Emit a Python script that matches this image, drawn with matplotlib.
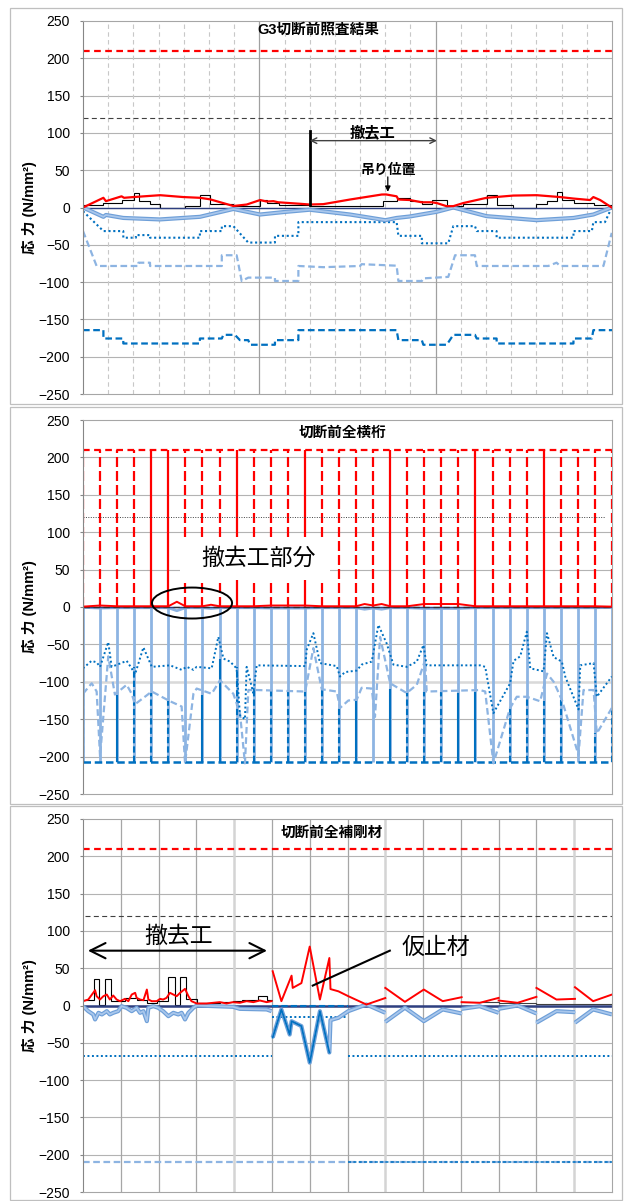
import numpy as np
import matplotlib.pyplot as plt
from matplotlib.patches import Ellipse, Rectangle

plt.rcParams['font.family'] = ['Liberation Sans', 'Noto Sans CJK JP', 'DejaVu Sans']

RED = '#ff0000'
LBLUE = '#8db4e2'
LBLUE_D = '#6e9fd8'
BLUE = '#0070c0'
NAVY = '#2e3f80'
nan = np.nan

# ---------------- panel 1 : G3 ----------------
p1_red_x = [0, 0.81, 0.91, 1.53, 1.63, 2.0, 3.06, 3.98, 4.64, 5.04, 5.97, 6.5, 7.03, 7.29, 7.56, 7.75,
            8.61, 9.0, 9.54, 10.6, 11.86, 12.03, 12.45, 12.52, 12.98, 13.45, 13.84, 14.04, 14.43, 14.7,
            15.1, 16.02, 17.08, 18.01, 18.94, 19.47, 20.13, 20.26, 20.53, 20.99]
p1_red_y = [0, 13, 8.5, 15, 13, 14, 16.5, 14, 13, 11, 2, 4, 10, 8, 8.5, 7,
            5, 4, 4.5, 10.7, 17.4, 17.5, 15, 10.7, 10, 7, 7, 6, 1.8, 1.8,
            6, 13, 16, 16.5, 14, 12, 10, 14, 10, 0]

p1_blk_edges = [0, 0.81, 1.53, 2.04, 2.24, 2.66, 3.06, 4.05, 4.64, 5.04, 5.97, 7.03, 7.3, 7.8, 9.0, 11.9,
                12.45, 12.98, 13.45, 13.84, 14.44, 15.1, 16.02, 16.42, 17.08, 18.0, 18.4, 18.8, 19.0, 19.5,
                20.3, 21]
p1_blk_vals = [3, 6, 10.7, 19.6, 8.5, 5, 0, 1.8, 16.5, 5, 1.8, 10, 6, 3, 1.5, 8.5, 13, 8.5, 5, 10.7,
               1.5, 5, 17.4, 3, 0, 5, 8.5, 20.5, 10.7, 6, 3]

p1_lb_x = [0, 0.81, 0.91, 1.6, 3.05, 4.64, 5.97, 7.03, 8.0, 9.0, 10.6, 12.0, 12.45, 12.98, 14.04, 14.7,
           16.02, 18.01, 19.47, 20.26, 20.99]
p1_lb_y = [0, -12.5, -10, -14, -16, -12.5, -2, -9.4, -6, -3, -9.4, -17, -14, -12, -5.8, 0,
           -11.6, -17, -14, -9.4, 0]

p1_dot_x = [0, 0.81, 1.6, 1.6, 2.1, 2.1, 2.66, 2.66, 4.64, 4.64, 5.51, 5.51, 5.97, 6.56, 7.62, 7.62,
            8.55, 8.55, 12.45, 12.52, 13.45, 13.45, 14.5, 14.7, 15.56, 15.63, 16.42, 16.42, 19.47, 19.47,
            20.2, 20.26, 20.72, 20.99]
p1_dot_y = [-5, -31.6, -31.6, -40.5, -40.5, -37, -37, -40.5, -40.5, -31.6, -31.6, -25, -25, -47, -47, -38,
            -38, -19.6, -19.6, -38, -38, -48, -48, -25, -25, -31.6, -31.6, -40.5, -40.5, -31.6,
            -31.6, -19.6, -19.6, 0]

p1_ld_x = [0, 0.54, 2.2, 2.2, 2.66, 2.66, 5.51, 5.51, 6.1, 6.3, 6.56, 7.62, 7.62, 8.55, 8.55, 9.54,
           11.0, 11.06, 12.45, 12.52, 13.45, 13.51, 14.5, 14.77, 15.56, 15.63, 18.47, 18.8, 18.94, 20.66,
           20.99]
p1_ld_y = [-31.6, -78.4, -78.4, -74, -74, -78.4, -78.4, -64, -64, -98.5, -94, -94, -98.5, -98.5, -78.4, -80,
           -78.4, -76, -78, -98.5, -98.5, -95, -93, -64, -64, -78.4, -78.4, -74, -78.4, -78.4,
           -34]

p1_dd_x = [0, 0.81, 0.81, 1.6, 1.6, 4.64, 4.64, 5.51, 5.57, 6.03, 6.23, 6.56, 6.63, 7.62, 7.62, 8.55,
           8.55, 12.45, 12.52, 13.45, 13.51, 14.44, 14.7, 15.56, 15.63, 16.42, 16.42, 19.47, 19.47, 20.2,
           20.26, 21]
p1_dd_y = [-164.4, -164.4, -175.6, -175.6, -182.3, -182.3, -175.6, -175.6, -170.7, -170.7, -177.8, -177.8,
           -184, -184, -177.8, -177.8, -164.4, -164.4, -177.8, -177.8, -184, -184, -170.7, -170.7, -175.6,
           -175.6, -182.3, -182.3, -175.6, -175.6, -164.4, -164.4]

# ---------------- panel 2 : all cross beams ----------------
p2_pos = list(range(32))
p2_limit_top = 210
p2_limit_bottom = -207
p2_red_solid = [4, 5, 9, 13, 18, 23, 27]

p2_dark_x = [0, 2, 3, 4, 5, 7, 8, 9, 10, 11, 12, 13, 14, 15, 16, 18, 19, 20, 21, 22, 23, 25, 26, 27, 28, 30, 31]
p2_dark_top = [-116, -118, -80, -115, -126, -117, -70, -80, -111, -111, -113, -113, -110, -135, -125,
               -110, -115, -113, -113, -115, -113, -135, -120, -126, -124, -169, -135]
p2_dark_solid = [2, 7, 8, 16, 18, 22, 23]

p2_dot_x = [0, 0.5, 0.8, 1.0, 1.48, 1.68, 2.56, 2.85, 3.05, 3.54,
            4.03, 5.1, 5.78, 6.08, 6.47, 6.66, 7.54, 7.93, 8.23, 8.62,
            9.0, 9.2, 9.49, 9.59, 9.98, 10.18, 13.02, 13.11, 13.5, 13.89,
            14.87, 15.06, 15.36, 16.04, 16.33, 16.92, 17.31, 17.8, 18.19, 18.97,
            19.56, 19.95, 20.14, 23.27, 23.57, 24.05, 25.03, 25.23, 25.62, 26.01,
            26.21, 26.99, 27.19, 27.58, 28.06, 28.26, 29.04, 29.14, 29.92, 30.11,
            30.99]
p2_dot_y = [-82, -72, -74, -80, -47, -80, -72, -82, -90, -54,
            -80, -78, -84, -80, -84, -80, -82, -40, -69, -73,
            -82, -145, -150, -80, -115, -78, -79, -57, -35, -75,
            -79, -93, -87, -85, -77, -73, -24, -49, -77, -80,
            -73, -51, -78, -78, -80, -142, -102, -72, -66, -33,
            -82, -86, -35, -67, -73, -93, -137, -78, -75, -120,
            -93]

p2_ld_x = [0, 0.51, 0.8, 1.0, 1.48, 1.87, 2.56, 2.85, 3.05, 4.03,
           5.1, 5.78, 5.98, 6.47, 6.66, 7.54, 8.03, 8.81, 9.2, 9.49,
           9.69, 10.18, 13.02, 13.5, 13.99, 14.87, 15.06, 15.55, 16.04, 16.33,
           16.92, 17.11, 17.41, 18.0, 18.97, 19.56, 20.05, 20.14, 23.27, 23.57,
           24.05, 25.03, 25.42, 26.01, 26.79, 27.19, 27.58, 28.06, 29.04, 29.33,
           29.92, 30.11, 30.99]
p2_ld_y = [-116, -102, -113, -200, -66, -117, -104, -116, -130, -113,
           -126, -133, -209, -116, -109, -116, -98, -116, -142, -209,
           -111, -111, -113, -55, -110, -113, -135, -125, -124, -108,
           -109, -147, -40, -102, -115, -104, -71, -113, -111, -113,
           -209, -135, -120, -120, -126, -89, -100, -124, -198, -111,
           -111, -169, -135]

p2_lo_x = [0, 1, 2, 3, 4, 5, 5.5, 6, 7, 7.5, 8, 9, 10, 11, 12, 13, 14, 15, 16, 16.5, 17, 17.5, 18,
           19, 20, 21, 22, 23, 24, 25, 26, 27, 28, 29, 30, 31]
p2_red_lo = [0.5, 2, 1, 1, 1, 1, 7, 1, 1, 3, 1, 1, 1, 2, 2, 2, 1, 1, 1, 4, 2, 4, 1,
             1, 4, 4, 4, 1, 1, 1, 1, 1, 1, 1, 1, 0.5]
p2_lb_lo = [-0.5, -1.5, -1, -1, -1, -1, -5, -1, -1, -2, -1, -1, -1, -1.5, -1.5, -1.5, -1, -1, -1, -3,
            -1.5, -3, -1, -1, -2, -2, -2, -1, -1, -1, -1, -1, -1, -1, -1, -0.5]

# ---------------- panel 3 : all stiffeners ----------------
p3_red_x = [0, 0.14, 0.27, 0.32, 0.36, 0.45, 0.54, 0.63, 0.71, 0.8,
            0.89, 0.98, 1.11, 1.2, 1.29, 1.38, 1.42, 1.51, 1.6, 1.69,
            1.73, 1.82, 1.95, 2.04, 2.12, 2.21, 2.3, 2.39, 2.48, 2.57,
            2.7, 2.79, 2.87, 3.01, 3.27, 3.62, 3.8, 3.97, 4.15, 4.33,
            4.51, 4.68, 4.86, 4.99, nan,
            5.02, 5.25, 5.52, 5.55, 5.78, 6.0, 6.27, 6.52, 6.55, 6.76, 7.02, 7.5, 8.0, nan,
            8, 8.52, 9.02, 9.52, 10.02, nan, 10.02, 10.5, 11, nan, 11, 11.5, 12, nan,
            12, 12.53, 13.02, nan, 13.02, 13.5, 14]
p3_red_y = [5.8, 8, 17, 20.5, 12.5, 8, 12.5, 14.7, 8, 13.4,
            8, 5.8, 8.9, 5.8, 14.7, 17, 10.2, 8, 7.1, 21.4,
            8, 5.8, 5.8, 8.9, 8, 10.2, 17, 14.7, 12.5, 17,
            22.3, 12.5, 5.8, 2.7, 2.7, 4.5, 2.7, 4.5, 3.6, 5.8,
            4.5, 6.7, 4.5, 5.8, nan,
            45.9, 5.8, 40, 23.6, 30, 79, 8, 63.7, 22, 19, 12.5, 1.3, 10, nan,
            23.6, 4.9, 21.4, 5.8, 11.1, nan, 4.5, 3.6, 10.2, nan, 6.7, 3.6, 11.6, nan,
            23.6, 8, 8.9, nan, 24.5, 5.8, 14.7]

p3_lb_x = [0, 0.14, 0.27, 0.32, 0.41, 0.5, 0.63, 0.71, 0.8, 0.93,
           1.02, 1.15, 1.29, 1.42, 1.51, 1.6, 1.69, 1.73, 1.86, 1.99,
           2.12, 2.26, 2.39, 2.52, 2.61, 2.7, 2.79, 2.92, 3.01, 3.97,
           4.15, 4.86, 4.99, nan,
           5.02, 5.25, 5.47, 5.52, 5.78, 6.0, 6.27, 6.52, 6.55, 6.76, 7.02, 7.5, 8.0, nan,
           8, 8.52, 9.02, 9.52, 10.02, nan, 10.02, 10.5, 11, nan, 11, 11.5, 12, nan,
           12, 12.53, 13.02, nan, 13.02, 13.5, 14]
p3_lb_y = [-0.9, -7.6, -12, -18.7, -9.8, -12, -7.6, -12, -9.8, -7.6,
           -0.9, -3.1, -7.6, -3.1, -9.8, -7.6, -21, -3.1, -0.9, -3.1,
           -7.6, -14.3, -9.8, -12, -9.8, -18.7, -9.8, -3.1, 0, -1.8,
           -4.5, -5.3, -7.6, nan,
           -43, -5.3, -39, -21, -27.6, -76.6, -7.6, -63, -19.6, -16.5, -7.6, 1.3, -9.8, nan,
           -22, -3, -21, -5.3, -10.7, nan, -4.5, -1, -9.8, nan, -4.5, 0, -10.7, nan,
           -23, -7.6, -9, nan, -23, -5.3, -12]
p3_tmp_x = [5.02, 5.25, 5.47, 5.52, 5.78, 6.0, 6.27, 6.52]
p3_tmp_y = [-43, -5.3, -39, -21, -27.6, -76.6, -7.6, -63]

p3_blk_edges = [0, 0.3, 0.43, 0.58, 0.74, 1.11, 1.42, 1.69, 1.95, 2.26, 2.43, 2.57, 2.73, 3.01, 3.62,
                3.97, 4.2, 4.64, 4.86, 4.99]
p3_blk_vals = [8, 35, 1, 35, 5.8, 10, 8, 3.6, 5.8, 38, 1, 38, 9, 2.7, 4.5, 5.8, 7, 13.4, 7]
p3_blk2_edges = [10, 11, 12, 14]
p3_blk2_vals = [4.9, 4, 1.5]

p3_dot_x = [0, 5, nan, 5, 7, nan, 7, 14]
p3_dot_y = [-68, -68, nan, -15, -15, nan, -68, -68]

W, H = 624, 1201
fig = plt.figure(figsize=(W / 100, H / 100), dpi=100)

# chart area frames
for top, bot in [(8, 404), (407, 804), (806, 1200)]:
    fig.add_artist(Rectangle((10 / W, 1 - bot / H), 612 / W, (bot - top) / H,
                             transform=fig.transFigure, fill=False, ec='#bfbfbf', lw=0.9))


def make_ax(top, bot, nx):
    ax = fig.add_axes([83 / W, 1 - bot / H, 529 / W, (bot - top) / H])
    ax.set_xlim(0, nx)
    ax.set_ylim(-250, 250)
    ax.set_yticks(range(-250, 251, 50))
    ax.set_xticks([])
    ax.tick_params(axis='y', length=2.5, width=0.8, color='#868686', labelsize=10, pad=7)
    for s in ax.spines.values():
        s.set_color('#a6a6a6')
        s.set_linewidth(0.8)
    ax.spines['left'].set_color('#868686')
    for v in range(-200, 250, 50):
        ax.axhline(v, color='#b3b3b3', lw=0.8, zorder=0)
    ax.set_ylabel('応 力 (N/mm²)', fontweight='bold', fontsize=10.5)
    ax.yaxis.set_label_coords(-0.087, 0.5)
    return ax


def thick_lb(ax, x, y):
    ax.plot(x, y, color=LBLUE_D, lw=3.0, solid_capstyle='butt')
    ax.plot(x, y, color='#a9c7ec', lw=1.3)


# ---- panel 1
ax1 = make_ax(21, 394, 21)
for i in range(1, 21):
    if i in (7, 14):
        ax1.axvline(i, color='#a0a0a0', lw=0.9, zorder=0)
    else:
        ax1.axvline(i, color='#c8c8c8', lw=0.8, ls=(0, (4, 3)), zorder=0)
ax1.axhline(210, color=RED, lw=1.6, ls=(0, (3, 2)))
ax1.axhline(120, color='#404040', lw=0.8, ls=(0, (4.5, 3)))
ax1.plot(p1_dd_x, p1_dd_y, color=BLUE, lw=1.6, ls=(0, (3, 1.6)))
ax1.plot(p1_ld_x, p1_ld_y, color=LBLUE, lw=1.6, ls=(0, (3, 1.6)))
ax1.plot(p1_dot_x, p1_dot_y, color=BLUE, lw=1.5, ls=(0, (1, 1.3)))
ax1.axhline(0, color=NAVY, lw=1.0)
thick_lb(ax1, p1_lb_x, p1_lb_y)
ax1.stairs(p1_blk_vals, p1_blk_edges, baseline=None, edgecolor='black', lw=0.8)
ax1.plot(p1_red_x, p1_red_y, color=RED, lw=1.6)
ax1.plot([9.0, 9.0], [4, 102], color='black', lw=2)
ax1.annotate('', xy=(9.0, 89.6), xytext=(14.05, 89.6),
             arrowprops=dict(arrowstyle='<->', color='#404040', lw=1.0, shrinkA=0, shrinkB=0))
ax1.text(11.5, 100, '撤去工', ha='center', va='center', fontsize=11, fontweight='bold')
ax1.text(12.1, 51, '吊り位置', ha='center', va='center', fontsize=10, fontweight='bold')
ax1.annotate('', xy=(12.1, 21), xytext=(12.1, 41),
             arrowprops=dict(arrowstyle='-|>', color='black', lw=0.9, mutation_scale=8,
                             shrinkA=0, shrinkB=0))
ax1.text(0.444, 0.976, 'G3切断前照査結果', transform=ax1.transAxes, ha='center', va='center',
         fontsize=10.5, fontweight='bold')

# ---- panel 2
ax2 = make_ax(420, 794, 31)
ax2.axhline(-100, color='#d9d9d9', lw=1.8, zorder=0.5)
ax2.axhline(p2_limit_top, color=RED, lw=1.6, ls=(0, (3, 2)))
ax2.vlines(p2_pos, 0, p2_limit_top, color=RED, lw=1.6,
           linestyles=['solid' if p in p2_red_solid else (0, (4.5, 1.8)) for p in p2_pos])
ax2.plot([0, 30.6], [120, 120], color='#404040', lw=0.7, ls=(0, (1, 1.5)))
ax2.vlines(p2_pos, p2_limit_bottom, 0, color=LBLUE, lw=2.0)
ax2.vlines(p2_dark_x, p2_limit_bottom, p2_dark_top, color=BLUE, lw=1.5,
           linestyles=['solid' if p in p2_dark_solid else (0, (3, 1.5)) for p in p2_dark_x])
ax2.axhline(p2_limit_bottom, color=BLUE, lw=1.8, ls=(0, (3, 1.5)))
ax2.plot(p2_ld_x, p2_ld_y, color=LBLUE, lw=1.6, ls=(0, (3, 1.6)))
ax2.plot(p2_dot_x, p2_dot_y, color=BLUE, lw=1.4, ls=(0, (1, 1.3)))
ax2.plot(p2_lo_x, p2_lb_lo, color=LBLUE, lw=2.0)
ax2.axhline(0, color=NAVY, lw=1.0)
ax2.plot([0, 31], [0.5, 0.5], color='#303030', lw=0.9, ls=(0, (5, 3)))
ax2.plot(p2_lo_x, p2_red_lo, color=RED, lw=1.4)
ax2.add_patch(Ellipse((6.39, 5.3), 4.69, 41.4, fill=False, ec='black', lw=1.4, zorder=5))
ax2.add_patch(Rectangle((5.7, 36), 8.8, 58, fc='white', ec='none', zorder=5))
ax2.text(10.26, 65, '撤去工部分', ha='center', va='center', fontsize=16.5, zorder=6)
ax2.text(0.491, 0.965, '切断前全横桁', transform=ax2.transAxes, ha='center', va='center',
         fontsize=10.5, fontweight='bold')

# ---- panel 3
ax3 = make_ax(819, 1192, 14)
for i in range(1, 14):
    if i in (4, 8, 13):
        ax3.axvline(i, color='#d4d4d4', lw=1.8, zorder=0)
    else:
        ax3.axvline(i, color='#a6a6a6', lw=0.9, zorder=0)
ax3.axhline(210, color=RED, lw=1.6, ls=(0, (3, 2)))
ax3.plot([0.05, 14], [120, 120], color='#404040', lw=0.8, ls=(0, (4.5, 3)))
ax3.plot([0, 14], [-210, -210], color=LBLUE, lw=1.6, ls=(0, (3, 1.6)))
ax3.plot([7, 14], [-210, -210], color=BLUE, lw=1.1, ls=(0, (2, 1.5)))
ax3.plot(p3_dot_x, p3_dot_y, color=BLUE, lw=1.4, ls=(0, (1, 1.3)))
ax3.axhline(0, color=NAVY, lw=1.8)
ax3.plot([5, 7], [0, 0], color=BLUE, lw=1.5, ls=(0, (3, 1.5)))
thick_lb(ax3, p3_lb_x, p3_lb_y)
ax3.plot(p3_tmp_x, p3_tmp_y, color=BLUE, lw=1.3)
ax3.stairs(p3_blk_vals, p3_blk_edges, baseline=None, edgecolor='black', lw=0.8)
ax3.stairs(p3_blk2_vals, p3_blk2_edges, baseline=None, edgecolor='#404040', lw=0.8)
ax3.plot(p3_red_x, p3_red_y, color=RED, lw=1.4)
ax3.annotate('', xy=(0.13, 73.5), xytext=(4.87, 73.5),
             arrowprops=dict(arrowstyle='<->,head_length=1.1,head_width=0.55', color='black', lw=1.5,
                             shrinkA=0, shrinkB=0))
ax3.text(2.54, 93, '撤去工', ha='center', va='center', fontsize=16.5)
ax3.plot([8.12, 6.08], [73.5, 26.7], color='black', lw=1.5)
ax3.text(9.34, 78, '仮止材', ha='center', va='center', fontsize=16.5)
ax3.text(0.471, 0.962, '切断前全補剛材', transform=ax3.transAxes, ha='center', va='center',
         fontsize=10.5, fontweight='bold')

fig.savefig('out.png', dpi=100)
